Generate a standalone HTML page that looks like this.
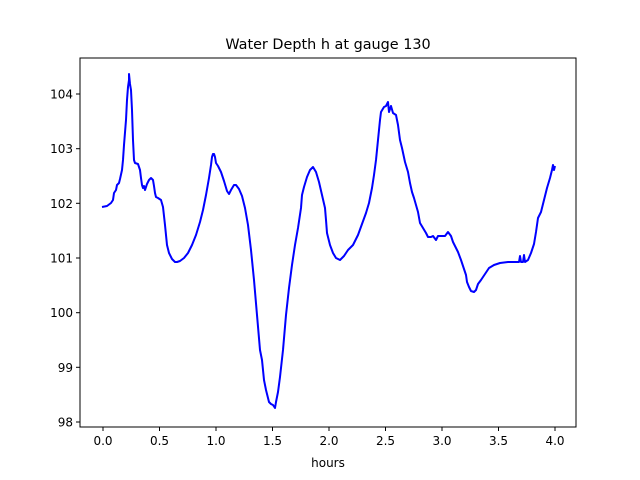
<!DOCTYPE html>
<html><head><style>body{margin:0;background:#fff}svg{display:block}text{font-family:"DejaVu Sans","Liberation Sans",sans-serif;fill:#000}</style></head><body>
<svg width="640" height="480" viewBox="0 0 640 480">
<rect width="640" height="480" fill="#fff"/>
<text x="328" y="49" font-size="14.4" text-anchor="middle">Water Depth h at gauge 130</text>
<polyline fill="none" stroke="#0000ff" stroke-width="2" stroke-linejoin="round" points="102,207 107,206 111,203 113,200 114,193 116,190 117,185 118,184 119,183 120,179 122,170 123,160 124,145 126,120 127,100 128,87 129,80 129,74 130,84 131,90 132,110 133,140 134,160 135,163 138,164 140,170 141,178 142,185 143,188 144,186 145,190 147,184 149,180 151,178 153,180 154,186 155,193 156,197 158,198 161,200 163,207 165,225 167,245 169,253 172,259 175,262 177,262 180,261 184,258 188,253 192,245 196,235 200,222 203,210 206,195 209,178 211,165 212,157 213,154 214,154 215,157 216,163 218,166 221,172 224,181 227,191 229,194 231,190 234,185 236,185 239,189 242,196 245,208 248,225 251,250 254,280 257,315 260,350 262,360 264,380 266,390 268,398 269,402 271,404 273,405 275,408 276,402 278,392 280,377 283,350 286,315 289,288 292,265 295,245 298,228 301,208 302,195 304,187 307,177 310,170 313,167 316,172 319,182 322,195 325,208 326,220 327,233 330,245 333,253 336,258 340,260 344,256 348,250 353,245 358,235 362,224 366,213 369,203 372,188 374,175 376,160 378,140 380,120 381,112 384,107 386,106 388,102 389,112 391,106 393,113 396,115 398,125 400,140 402,148 405,162 408,172 410,183 412,192 414,198 416,205 418,212 420,223 423,228 426,233 428,237 431,237 433,236 436,240 438,236 441,236 445,236 448,232 451,236 453,242 456,248 458,252 461,260 463,266 466,275 467,282 469,287 471,291 474,292 476,290 478,284 481,280 485,274 489,268 494,265 500,263 508,262 516,262 519,262 520,256 521,262 523,262 524,255 525,262 528,260 531,253 534,244 536,232 538,218 541,212 544,200 547,188 550,178 552,170 553,165 554,170 555,166"/>
<rect x="80" y="58" width="496" height="369" fill="none" stroke="#000" stroke-width="1"/>
<g stroke="#000" stroke-width="1">
<line x1="103" y1="427" x2="103" y2="431"/><line x1="159.5" y1="427" x2="159.5" y2="431"/><line x1="216" y1="427" x2="216" y2="431"/><line x1="272.5" y1="427" x2="272.5" y2="431"/><line x1="329" y1="427" x2="329" y2="431"/><line x1="385.5" y1="427" x2="385.5" y2="431"/><line x1="442" y1="427" x2="442" y2="431"/><line x1="498.5" y1="427" x2="498.5" y2="431"/><line x1="555" y1="427" x2="555" y2="431"/>
<line x1="76" y1="94" x2="80" y2="94"/><line x1="76" y1="148.7" x2="80" y2="148.7"/><line x1="76" y1="203.3" x2="80" y2="203.3"/><line x1="76" y1="258" x2="80" y2="258"/><line x1="76" y1="312.7" x2="80" y2="312.7"/><line x1="76" y1="367.3" x2="80" y2="367.3"/><line x1="76" y1="422" x2="80" y2="422"/>
</g>
<g font-size="12" text-anchor="middle">
<text x="103" y="445">0.0</text><text x="159.5" y="445">0.5</text><text x="216" y="445">1.0</text><text x="272.5" y="445">1.5</text><text x="329" y="445">2.0</text><text x="385.5" y="445">2.5</text><text x="442" y="445">3.0</text><text x="498.5" y="445">3.5</text><text x="555" y="445">4.0</text>
<text x="328" y="467">hours</text>
</g>
<g font-size="12" text-anchor="end">
<text x="73" y="98.5">104</text><text x="73" y="153">103</text><text x="73" y="208">102</text><text x="73" y="262.5">101</text><text x="73" y="317">100</text><text x="73" y="372">99</text><text x="73" y="426.5">98</text>
</g>
</svg>
</body></html>
